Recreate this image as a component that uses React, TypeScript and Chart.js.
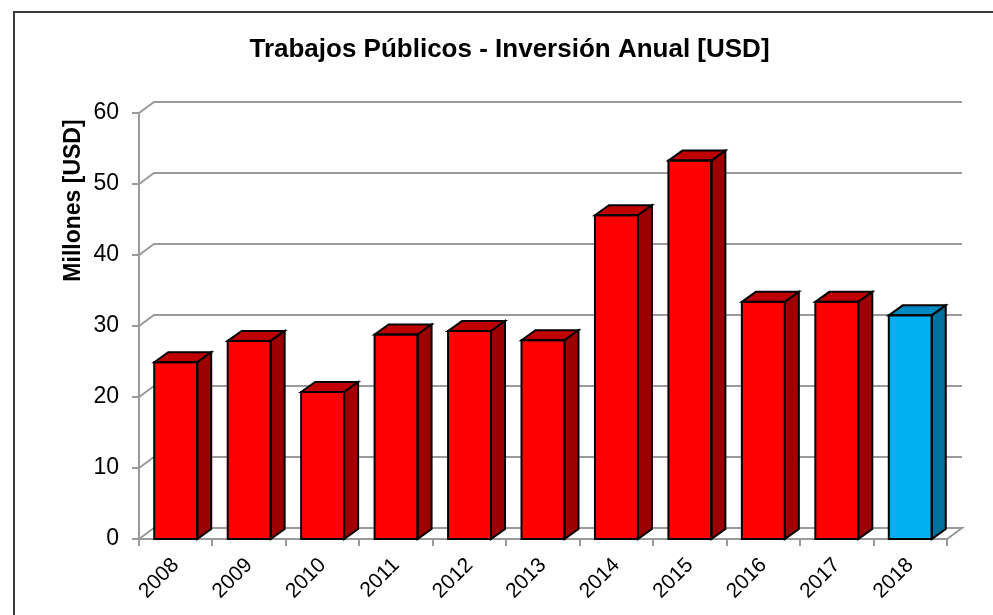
import React, { useEffect, useRef } from 'react';
import { Chart, registerables } from 'chart.js';

Chart.register(...registerables);

const categories = ['2008', '2009', '2010', '2011', '2012', '2013', '2014', '2015', '2016', '2017', '2018'];
const values = [24.9, 27.9, 20.7, 28.8, 29.3, 28.0, 45.6, 53.3, 33.4, 33.4, 31.5];
const frontColors = ['#FF0000', '#FF0000', '#FF0000', '#FF0000', '#FF0000', '#FF0000', '#FF0000', '#FF0000', '#FF0000', '#FF0000', '#00B0F0'];
const topColors = ['#C00000', '#C00000', '#C00000', '#C00000', '#C00000', '#C00000', '#C00000', '#C00000', '#C00000', '#C00000', '#0088C0'];
const sideColors = ['#9C0000', '#9C0000', '#9C0000', '#9C0000', '#9C0000', '#9C0000', '#9C0000', '#9C0000', '#9C0000', '#9C0000', '#00709C'];
const yMin = 0;
const yMax = 60;
const yStep = 10;
const titleText = 'Trabajos Públicos - Inversión Anual [USD]';
const yTitleText = 'Millones [USD] ';

const FONT = "'Liberation Sans', Arial, sans-serif";
const WALL_DX = 15;
const WALL_DY = -11;
const BAR_DX = 14;
const BAR_DY = -10;
const GRID = '#9A9A9A';

const threeD = {
  id: 'threeD',
  beforeDraw(chart: any) {
    const ctx = chart.ctx;
    ctx.save();
    ctx.strokeStyle = '#3A3A3A';
    ctx.lineWidth = 2;
    ctx.beginPath();
    ctx.moveTo(14, chart.height + 10);
    ctx.lineTo(14, 12);
    ctx.lineTo(chart.width + 10, 12);
    ctx.stroke();
    ctx.fillStyle = '#000';
    ctx.font = `bold 26px ${FONT}`;
    ctx.textAlign = 'center';
    ctx.textBaseline = 'alphabetic';
    ctx.fillText(titleText, 509.5, 56.5);
    ctx.restore();
  },
  beforeDatasetsDraw(chart: any) {
    const ctx = chart.ctx;
    const area = chart.chartArea;
    const y = chart.scales.y;
    const L = area.left;
    const R = area.right;
    ctx.save();
    ctx.strokeStyle = GRID;
    ctx.lineWidth = 2;
    ctx.lineJoin = 'miter';
    y.ticks.forEach((t: any) => {
      const py = y.getPixelForValue(t.value);
      ctx.beginPath();
      ctx.moveTo(L - 7, py);
      ctx.lineTo(L, py);
      ctx.lineTo(L + WALL_DX, py + WALL_DY);
      ctx.lineTo(R + WALL_DX, py + WALL_DY);
      if (t.value === yMin) {
        ctx.lineTo(R, py);
        ctx.lineTo(L, py);
      }
      ctx.stroke();
    });
    ctx.beginPath();
    ctx.moveTo(L, y.getPixelForValue(yMax));
    ctx.lineTo(L, y.getPixelForValue(yMin));
    ctx.stroke();
    ctx.restore();
  },
  afterDatasetsDraw(chart: any) {
    const ctx = chart.ctx;
    const meta = chart.getDatasetMeta(0);
    ctx.save();
    ctx.strokeStyle = '#000';
    ctx.lineWidth = 2;
    ctx.lineJoin = 'miter';
    meta.data.forEach((bar: any, i: number) => {
      const p = bar.getProps(['x', 'y', 'base', 'width'], true);
      const left = p.x - p.width / 2;
      const right = p.x + p.width / 2;
      const top = p.y;
      const base = p.base;
      ctx.beginPath();
      ctx.moveTo(left, top);
      ctx.lineTo(left + BAR_DX, top + BAR_DY);
      ctx.lineTo(right + BAR_DX, top + BAR_DY);
      ctx.lineTo(right, top);
      ctx.closePath();
      ctx.fillStyle = topColors[i];
      ctx.fill();
      ctx.stroke();
      ctx.beginPath();
      ctx.moveTo(right, top);
      ctx.lineTo(right + BAR_DX, top + BAR_DY);
      ctx.lineTo(right + BAR_DX, base + BAR_DY);
      ctx.lineTo(right, base);
      ctx.closePath();
      ctx.fillStyle = sideColors[i];
      ctx.fill();
      ctx.stroke();
      ctx.strokeRect(left, top, p.width, base - top);
    });
    ctx.restore();
  },
};

export default function App() {
  const ref = useRef<HTMLCanvasElement | null>(null);
  useEffect(() => {
    if (!ref.current) return;
    const chart = new Chart(ref.current, {
      type: 'bar',
      data: {
        labels: categories,
        datasets: [
          {
            data: values,
            backgroundColor: frontColors,
            borderWidth: 0,
            categoryPercentage: 1,
            barPercentage: 0.585,
          },
        ],
      },
      options: {
        animation: false,
        responsive: false,
        maintainAspectRatio: false,
        layout: { padding: { left: 0, right: 46, top: 113, bottom: 0 } },
        plugins: {
          legend: { display: false },
          tooltip: { enabled: false },
          title: { display: false },
        },
        scales: {
          x: {
            offset: true,
            grid: {
              display: true,
              drawOnChartArea: false,
              drawTicks: true,
              tickLength: 7,
              color: GRID,
              lineWidth: 2,
              offset: true,
            },
            border: { display: false },
            ticks: {
              minRotation: 45,
              maxRotation: 45,
              color: '#000',
              padding: 7,
              font: { family: FONT, size: 21 },
            },
            afterFit(scale: any) {
              scale.height = 76;
            },
          },
          y: {
            min: yMin,
            max: yMax,
            grid: { display: false, drawTicks: false },
            border: { display: false },
            ticks: {
              stepSize: yStep,
              color: '#000',
              padding: 20,
              font: { family: FONT, size: 23 },
            },
            title: {
              display: true,
              text: yTitleText,
              align: 'end',
              color: '#000',
              font: { family: FONT, size: 23, weight: 'bold' },
              padding: { top: 60, bottom: 0 },
            },
            afterFit(scale: any) {
              scale.width = 139;
            },
          },
        },
      },
      plugins: [threeD],
    });
    return () => chart.destroy();
  }, []);
  return (
    <div style={{ position: 'fixed', left: 0, top: 0, width: 993, height: 615, background: '#fff' }}>
      <canvas ref={ref} width={993} height={615} style={{ width: 993, height: 615, display: 'block' }} />
    </div>
  );
}
